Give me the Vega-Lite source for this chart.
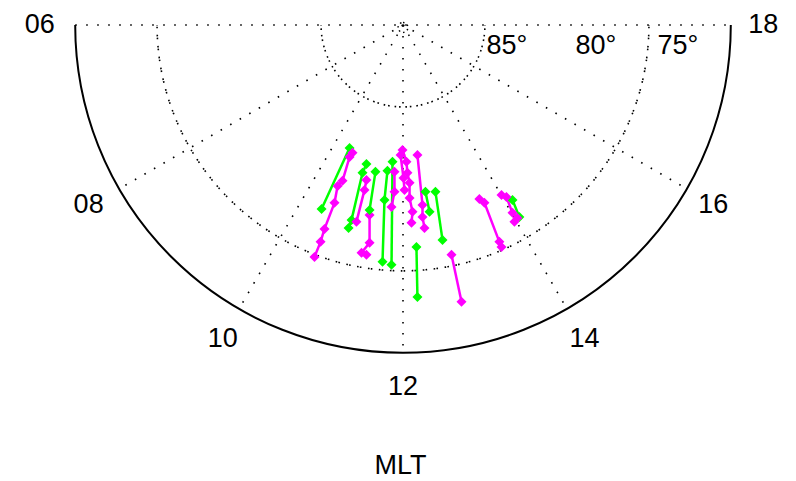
{
  "$schema": "https://vega.github.io/schema/vega-lite/v6.json",
  "autosize": {"type": "none"},
  "padding": {"left": 67, "top": 25, "right": 57, "bottom": 120},
  "width": 672,
  "height": 336,
  "background": "white",
  "config": {"view": {"stroke": null}},
  "datasets": {
    "grid": [
      {"r": 5}, {"r": 10}, {"r": 15}
    ],
    "outer": [{"r": 20}],
    "pole": [{"r": 0.3}],
    "spokes": [
      {"x": -20, "y": 0, "x2": 20, "y2": 0},
      {"x": 0, "y": 0, "x2": -17.32, "y2": 10},
      {"x": 0, "y": 0, "x2": -10, "y2": 17.32},
      {"x": 0, "y": 0, "x2": 0, "y2": 20},
      {"x": 0, "y": 0, "x2": 10, "y2": 17.32},
      {"x": 0, "y": 0, "x2": 17.32, "y2": 10}
    ],
    "hours": [
      {"label": "06", "x": -22.16, "y": 0},
      {"label": "18", "x": 21.98, "y": 0},
      {"label": "08", "x": -19.18, "y": 10.98},
      {"label": "16", "x": 18.93, "y": 10.98},
      {"label": "10", "x": -11.0, "y": 19.15},
      {"label": "14", "x": 11.07, "y": 19.15},
      {"label": "12", "x": 0, "y": 22.07},
      {"label": "MLT", "x": -0.15, "y": 26.9}
    ],
    "lats": [
      {"label": "85°", "x": 6.34, "y": 1.3},
      {"label": "80°", "x": 11.77, "y": 1.3},
      {"label": "75°", "x": 16.77, "y": 1.3}
    ],
    "tracks": [
      {"t": "g1", "c": "green", "i": 1, "x": -3.26, "y": 7.50},
      {"t": "g1", "c": "green", "i": 2, "x": -4.97, "y": 11.22},
      {"t": "g2", "c": "green", "i": 1, "x": -2.23, "y": 8.48},
      {"t": "g2", "c": "green", "i": 2, "x": -2.47, "y": 9.02},
      {"t": "g2", "c": "green", "i": 3, "x": -3.14, "y": 11.89},
      {"t": "g2", "c": "green", "i": 4, "x": -3.32, "y": 12.38},
      {"t": "g3", "c": "green", "i": 1, "x": -1.68, "y": 8.96},
      {"t": "g3", "c": "green", "i": 2, "x": -2.04, "y": 11.28},
      {"t": "g4", "c": "green", "i": 1, "x": -0.64, "y": 8.35},
      {"t": "g4", "c": "green", "i": 2, "x": -0.70, "y": 14.63},
      {"t": "g5", "c": "green", "i": 1, "x": -0.95, "y": 8.90},
      {"t": "g5", "c": "green", "i": 2, "x": -1.13, "y": 10.67},
      {"t": "g5", "c": "green", "i": 3, "x": -1.25, "y": 14.45},
      {"t": "g6", "c": "green", "i": 1, "x": 0.82, "y": 13.54},
      {"t": "g6", "c": "green", "i": 2, "x": 0.88, "y": 16.59},
      {"t": "g7", "c": "green", "i": 1, "x": 1.37, "y": 10.18},
      {"t": "g7", "c": "green", "i": 2, "x": 1.62, "y": 11.40},
      {"t": "g8", "c": "green", "i": 1, "x": 1.98, "y": 10.18},
      {"t": "g8", "c": "green", "i": 2, "x": 2.41, "y": 13.11},
      {"t": "g9", "c": "green", "i": 1, "x": 6.68, "y": 10.67},
      {"t": "g9", "c": "green", "i": 2, "x": 7.10, "y": 11.71},
      {"t": "m1", "c": "magenta", "i": 1, "x": -3.08, "y": 7.80},
      {"t": "m1", "c": "magenta", "i": 2, "x": -3.26, "y": 8.05},
      {"t": "m1", "c": "magenta", "i": 3, "x": -3.69, "y": 9.51},
      {"t": "m1", "c": "magenta", "i": 4, "x": -3.99, "y": 9.82},
      {"t": "m1", "c": "magenta", "i": 5, "x": -4.18, "y": 10.85},
      {"t": "m1", "c": "magenta", "i": 6, "x": -4.79, "y": 12.44},
      {"t": "m1", "c": "magenta", "i": 7, "x": -5.03, "y": 13.23},
      {"t": "m1", "c": "magenta", "i": 8, "x": -5.40, "y": 14.15},
      {"t": "m2", "c": "magenta", "i": 1, "x": -2.23, "y": 9.45},
      {"t": "m2", "c": "magenta", "i": 2, "x": -2.35, "y": 10.06},
      {"t": "m2", "c": "magenta", "i": 3, "x": -2.84, "y": 12.01},
      {"t": "m2b", "c": "magenta", "i": 1, "x": -2.04, "y": 11.59},
      {"t": "m2b", "c": "magenta", "i": 2, "x": -2.04, "y": 13.29},
      {"t": "m2b", "c": "magenta", "i": 3, "x": -2.53, "y": 13.90},
      {"t": "m2b", "c": "magenta", "i": 4, "x": -2.23, "y": 14.02},
      {"t": "m3", "c": "magenta", "i": 1, "x": -0.03, "y": 7.62},
      {"t": "m3", "c": "magenta", "i": 2, "x": 0.21, "y": 8.35},
      {"t": "m3", "c": "magenta", "i": 3, "x": 0.27, "y": 9.02},
      {"t": "m3", "c": "magenta", "i": 4, "x": 0.40, "y": 9.63},
      {"t": "m3", "c": "magenta", "i": 5, "x": 0.40, "y": 10.55},
      {"t": "m3", "c": "magenta", "i": 6, "x": 0.58, "y": 11.40},
      {"t": "m3", "c": "magenta", "i": 7, "x": 0.52, "y": 12.07},
      {"t": "m3c", "c": "magenta", "i": 1, "x": -0.15, "y": 7.93},
      {"t": "m3c", "c": "magenta", "i": 2, "x": 0.03, "y": 9.33},
      {"t": "m3c", "c": "magenta", "i": 3, "x": 0.09, "y": 10.06},
      {"t": "m4", "c": "magenta", "i": 1, "x": 0.88, "y": 7.93},
      {"t": "m4", "c": "magenta", "i": 2, "x": 1.19, "y": 10.98},
      {"t": "m4", "c": "magenta", "i": 3, "x": 1.19, "y": 11.71},
      {"t": "m4", "c": "magenta", "i": 4, "x": 1.31, "y": 12.38},
      {"t": "m5", "c": "magenta", "i": 1, "x": -0.52, "y": 8.96},
      {"t": "m5", "c": "magenta", "i": 2, "x": -0.52, "y": 10.18},
      {"t": "m5", "c": "magenta", "i": 3, "x": -0.70, "y": 11.10},
      {"t": "m6", "c": "magenta", "i": 1, "x": 2.96, "y": 14.02},
      {"t": "m6", "c": "magenta", "i": 2, "x": 3.57, "y": 16.89},
      {"t": "m7", "c": "magenta", "i": 1, "x": 4.66, "y": 10.61},
      {"t": "m7", "c": "magenta", "i": 2, "x": 4.97, "y": 10.85},
      {"t": "m7", "c": "magenta", "i": 3, "x": 5.88, "y": 13.23},
      {"t": "m7", "c": "magenta", "i": 4, "x": 6.01, "y": 13.54},
      {"t": "m8", "c": "magenta", "i": 1, "x": 6.01, "y": 10.37},
      {"t": "m8", "c": "magenta", "i": 2, "x": 6.31, "y": 10.49},
      {"t": "m8", "c": "magenta", "i": 3, "x": 6.68, "y": 11.46},
      {"t": "m8", "c": "magenta", "i": 4, "x": 6.98, "y": 11.77},
      {"t": "m8", "c": "magenta", "i": 5, "x": 6.80, "y": 12.01}
    ]
  },
  "encoding": {
    "x": {"type": "quantitative", "scale": {"domain": [-20.5, 20.5], "nice": false, "zero": false}, "axis": null},
    "y": {"type": "quantitative", "scale": {"domain": [0, 20.5], "nice": false, "reverse": true}, "axis": null}
  },
  "layer": [
    {
      "data": {"name": "grid"},
      "mark": {"type": "arc", "theta": 0, "theta2": 6.2832, "filled": false, "fill": null, "stroke": "black", "strokeWidth": 1.6, "strokeDash": [1.6, 9.4], "clip": true},
      "encoding": {
        "x": {"datum": 0, "type": "quantitative"},
        "y": {"datum": 0, "type": "quantitative"},
        "radius": {"field": "r", "type": "quantitative", "scale": {"type": "linear", "domain": [0, 20], "range": [0, 327.8], "zero": true}}
      }
    },
    {
      "data": {"name": "outer"},
      "mark": {"type": "arc", "theta": 0, "theta2": 6.2832, "filled": false, "fill": null, "stroke": "black", "strokeWidth": 2, "clip": true},
      "encoding": {
        "x": {"datum": 0, "type": "quantitative"},
        "y": {"datum": 0, "type": "quantitative"},
        "radius": {"field": "r", "type": "quantitative", "scale": {"type": "linear", "domain": [0, 20], "range": [0, 327.8], "zero": true}}
      }
    },
    {
      "data": {"name": "pole"},
      "mark": {"type": "arc", "theta": 0, "theta2": 6.2832, "filled": false, "fill": null, "stroke": "black", "strokeWidth": 1.5, "strokeDash": [1.5, 3]},
      "encoding": {
        "x": {"datum": 0, "type": "quantitative"},
        "y": {"datum": 0.15, "type": "quantitative"},
        "radius": {"field": "r", "type": "quantitative", "scale": {"type": "linear", "domain": [0, 20], "range": [0, 327.8], "zero": true}}
      }
    },
    {
      "data": {"name": "spokes"},
      "mark": {"type": "rule", "stroke": "black", "strokeWidth": 1.6, "strokeDash": [1.6, 9.4]},
      "encoding": {
        "x": {"field": "x", "type": "quantitative"},
        "y": {"field": "y", "type": "quantitative"},
        "x2": {"field": "x2"},
        "y2": {"field": "y2"}
      }
    },
    {
      "data": {"name": "tracks"},
      "mark": {"type": "line", "strokeWidth": 2.5, "point": {"shape": "diamond", "filled": true, "size": 100, "opacity": 1}},
      "encoding": {
        "x": {"field": "x", "type": "quantitative"},
        "y": {"field": "y", "type": "quantitative"},
        "color": {"field": "c", "type": "nominal", "scale": {"domain": ["green", "magenta"], "range": ["#00ff00", "#ff00ff"]}, "legend": null},
        "detail": {"field": "t", "type": "nominal"},
        "order": {"field": "i", "type": "quantitative"}
      }
    },
    {
      "data": {"name": "hours"},
      "mark": {"type": "text", "font": "Liberation Sans", "fontSize": 27, "align": "center", "baseline": "middle", "color": "black"},
      "encoding": {
        "x": {"field": "x", "type": "quantitative"},
        "y": {"field": "y", "type": "quantitative"},
        "text": {"field": "label"}
      }
    },
    {
      "data": {"name": "lats"},
      "mark": {"type": "text", "font": "Liberation Sans", "fontSize": 27, "align": "center", "baseline": "middle", "color": "black"},
      "encoding": {
        "x": {"field": "x", "type": "quantitative"},
        "y": {"field": "y", "type": "quantitative"},
        "text": {"field": "label"}
      }
    }
  ]
}
